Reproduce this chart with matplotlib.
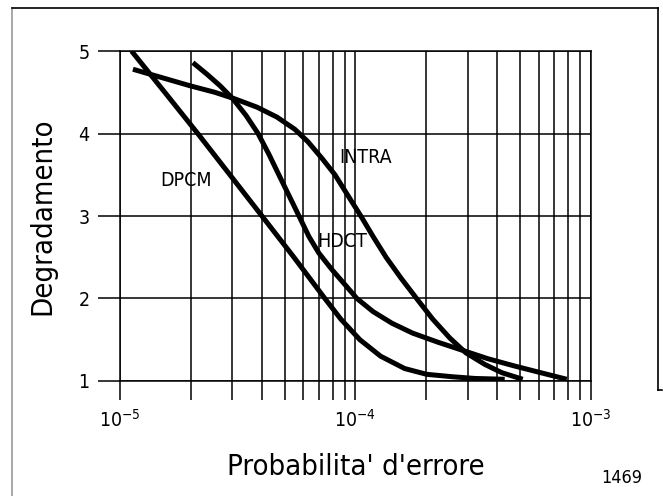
import matplotlib
matplotlib.use("Agg")
import matplotlib.pyplot as plt
from matplotlib.lines import Line2D
from matplotlib.ticker import LogLocator, NullFormatter, FixedLocator

plt.rcParams['font.family'] = ['DejaVu Sans']
plt.rcParams['font.stretch'] = 'condensed'
plt.rcParams['mathtext.fontset'] = 'dejavusans'

# curves (probabilita' d'errore, degradamento)
dpcm_x = [1.12e-5, 1.55e-5, 2.14e-5, 2.93e-5, 4.01e-5, 5.48e-5, 7.42e-5, 8.67e-5,
          1.045e-4, 1.28e-4, 1.62e-4, 2.01e-4, 2.60e-4, 3.22e-4, 4.31e-4]
dpcm_y = [5.00, 4.50, 4.00, 3.50, 3.00, 2.50, 2.00, 1.75,
          1.50, 1.30, 1.15, 1.08, 1.05, 1.03, 1.02]

hdct_x = [2.04e-5, 2.34e-5, 2.66e-5, 3.02e-5, 3.43e-5, 3.86e-5, 4.29e-5, 4.73e-5,
          5.22e-5, 5.76e-5, 6.35e-5, 7.00e-5, 7.95e-5, 9.02e-5, 1.015e-4, 1.19e-4,
          1.43e-4, 1.75e-4, 2.24e-4, 2.86e-4, 3.65e-4, 4.76e-4, 6.13e-4, 7.91e-4]
hdct_y = [4.86, 4.72, 4.58, 4.42, 4.22, 4.00, 3.75, 3.50,
          3.25, 3.00, 2.75, 2.55, 2.35, 2.17, 2.00, 1.84,
          1.70, 1.58, 1.47, 1.37, 1.27, 1.18, 1.10, 1.02]

intra_x = [1.135e-5, 1.34e-5, 1.63e-5, 1.98e-5, 2.53e-5, 3.08e-5, 3.82e-5, 4.64e-5,
           5.54e-5, 6.29e-5, 7.21e-5, 8.19e-5, 9.29e-5, 1.055e-4, 1.19e-4, 1.35e-4,
           1.56e-4, 1.82e-4, 2.13e-4, 2.52e-4, 2.95e-4, 3.55e-4, 4.19e-4, 5.14e-4]
intra_y = [4.78, 4.72, 4.65, 4.58, 4.50, 4.42, 4.32, 4.20,
           4.05, 3.90, 3.70, 3.50, 3.25, 3.00, 2.75, 2.50,
           2.25, 2.00, 1.75, 1.52, 1.34, 1.20, 1.10, 1.02]

y_ticks = [1, 2, 3, 4, 5]
x_ticks = [1e-5, 1e-4, 1e-3]
x_tick_labels = ['$10^{-5}$', '$10^{-4}$', '$10^{-3}$']

fig = plt.figure(figsize=(6.63, 4.96), dpi=100)
ax = fig.add_axes([0.181, 0.232, 0.710, 0.665])

for xs, ys in [(dpcm_x, dpcm_y), (hdct_x, hdct_y), (intra_x, intra_y)]:
    ax.plot(xs, ys, color='black', lw=3.6, solid_joinstyle='round',
            solid_capstyle='butt', zorder=3)

ax.set_xscale('log')
ax.set_xlim(1e-5, 1e-3)
ax.set_ylim(1, 5)
ax.xaxis.set_major_locator(FixedLocator(x_ticks))
ax.set_xticklabels(x_tick_labels)
ax.xaxis.set_minor_locator(LogLocator(base=10, subs=range(2, 10)))
ax.xaxis.set_minor_formatter(NullFormatter())
ax.set_yticks(y_ticks)
ax.set_yticklabels([str(v) for v in y_ticks])

ax.grid(True, which='both', axis='x', color='black', lw=1.1)
ax.grid(True, which='major', axis='y', color='black', lw=1.1)
for s in ax.spines.values():
    s.set_linewidth(1.1)

ax.tick_params(axis='x', which='both', direction='out', length=14, width=1.1, pad=6,
               labelsize=14)
ax.tick_params(axis='y', which='major', direction='out', length=16, width=1.1, pad=6,
               labelsize=14)

ax.set_xlabel("Probabilita' d'errore", fontsize=21, labelpad=16)
ax.set_ylabel('Degradamento', fontsize=21, labelpad=16)

ax.text(8.8e-5, 2.69, 'HDCT', fontsize=14, ha='center', va='center', zorder=4)
ax.text(1.1e-4, 3.71, 'INTRA', fontsize=14, ha='center', va='center', zorder=4)
ax.text(1.9e-5, 3.43, 'DPCM', fontsize=14, ha='center', va='center', zorder=4)

fig.text(622 / 663, 1 - 478 / 496, '1469', fontsize=13, ha='center', va='center')

# outer frame of the scanned figure
fig.add_artist(Line2D([12 / 663, 12 / 663], [0, 1 - 8 / 496], color='0.6', lw=1.2))
fig.add_artist(Line2D([12 / 663, 658 / 663], [1 - 8 / 496, 1 - 8 / 496], color='black', lw=1.2))
fig.add_artist(Line2D([658 / 663, 658 / 663], [1 - 8 / 496, 1 - 390 / 496], color='black', lw=1.2))
fig.add_artist(Line2D([658 / 663, 662 / 663], [1 - 390 / 496, 1 - 390 / 496], color='black', lw=1.2))

fig.savefig('out.png', dpi=100)
